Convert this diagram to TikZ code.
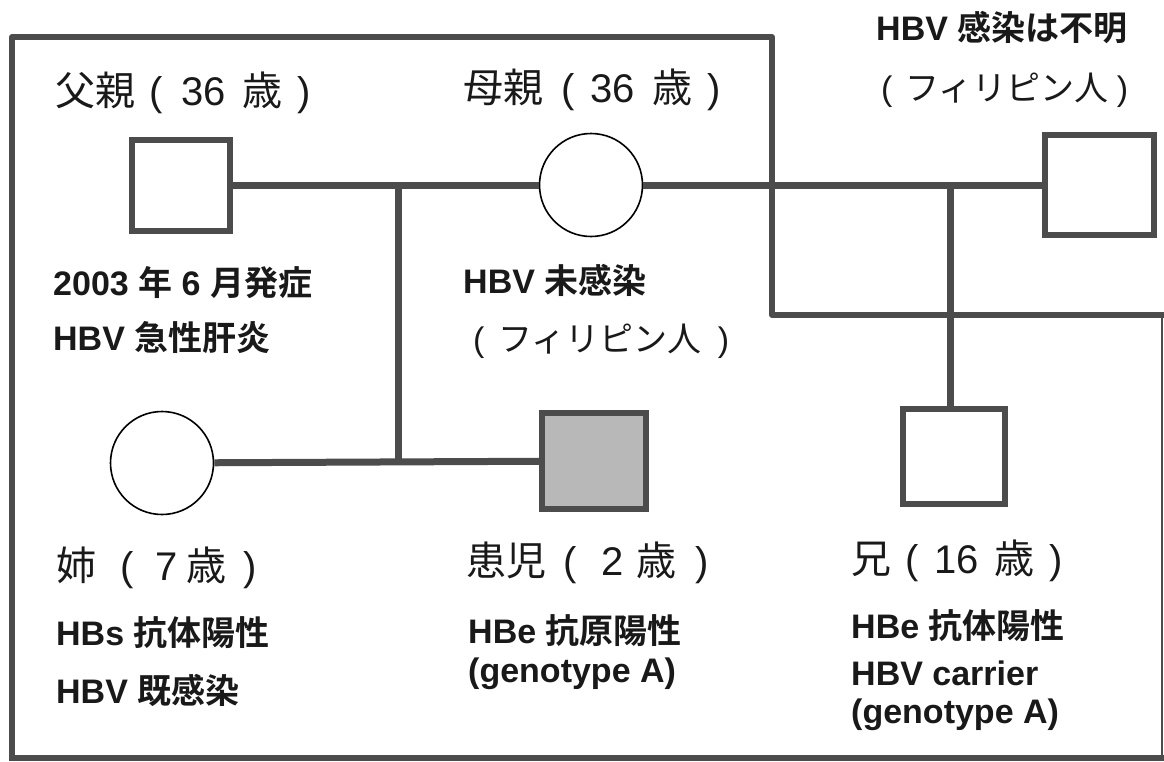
\documentclass[tikz,border=0pt]{standalone}
\usepackage{fontspec}
\setmainfont{Liberation Sans}
\newfontfamily\jpf{Noto Sans CJK JP}[BoldFont={Noto Sans CJK JP Bold}]
\newcommand{\hsp}[1]{\hspace{#1pt}}
\definecolor{lc}{gray}{0.30}
\definecolor{pf}{gray}{0.72}
\definecolor{tc}{gray}{0.10}
\tikzset{
  link/.style={draw=lc, line width=7pt},
  framed/.style={draw=lc, line width=6pt, line join=round},
  male/.style={rectangle, draw=lc, line width=6pt, fill=white, inner sep=0pt},
  female/.style={circle, draw=black, line width=1.6pt, fill=white, inner sep=0pt, minimum size=103pt},
  lbl/.style={anchor=base west, inner sep=0pt, text=tc, font=\fontsize{40}{48}\selectfont},
  info/.style={anchor=base west, inner sep=0pt, text=tc, font=\fontsize{34}{40}\selectfont\bfseries},
  nat/.style={anchor=base west, inner sep=0pt, text=tc, font=\fontsize{34}{40}\selectfont},
}
\begin{document}
\begin{tikzpicture}[x=1pt, y=-1pt]
\useasboundingbox (0,0) rectangle (1164,761);
% frame
\draw[framed] (12,758) -- (12,37) -- (772,37) -- (772,315) -- (1168,315);
\draw[framed] (9,758) -- (1168,758);
\draw[draw=lc, line width=2pt] (1162,315) -- (1162,758);
% people
\node[male, minimum width=98pt, minimum height=91pt] (father) at (181,185) {};
\node[female] (mother) at (591,185) {};
\node[male, minimum width=109pt, minimum height=100pt] (unk) at (1099.5,185) {};
\node[female] (sister) at (162,463) {};
\node[male, fill=pf, minimum width=104pt, minimum height=96pt] (patient) at (594,461) {};
\node[male, minimum width=102pt, minimum height=95pt] (brother) at (954,456.5) {};
% junctions
\coordinate (c1) at (398,185);
\coordinate (c2) at (398,462);
\coordinate (c3) at (950,185);
% connectors
\draw[link] (father) -- (mother);
\draw[link] (mother) -- (unk);
\draw[link] (c1) -- (c2);
\draw[link] (sister) -- (patient);
\draw[link] (c3) -- (c3 |- brother.north);
% labels
\node[lbl] (lf) at (55,105) {{\jpf 父親}\hsp{14}(\hsp{19}36\hsp{16}{\jpf 歳}\hsp{15})};
\node[lbl] (lm) at (463,102) {{\jpf 母親}\hsp{18}(\hsp{16}36\hsp{17}{\jpf 歳}\hsp{15})};
\node[lbl] (ls) at (56,580) {{\jpf 姉}\hsp{24}(\hsp{22}7\hsp{9}{\jpf 歳}\hsp{17})};
\node[lbl] (lp) at (466,575) {{\jpf 患児}\hsp{17}(\hsp{25}2\hsp{13}{\jpf 歳}\hsp{19})};
\node[lbl] (lb) at (851,573) {{\jpf 兄}\hsp{14}(\hsp{16}16\hsp{15}{\jpf 歳}\hsp{15})};
% info
\node[info] (f1) at (53,295) {2003 {\jpf 年} 6 {\jpf 月発症}};
\node[info] (f2) at (53,350) {HBV {\jpf 急性肝炎}};
\node[info] (m1) at (463,293) {HBV {\jpf 未感染}};
\node[nat] (m2) at (473,351) {(\hsp{14}{\jpf フィリピン人}\hsp{16})};
\node[info] (t1) at (876,40) {HBV {\jpf 感染は不明}};
\node[nat] (t2) at (881,100) {(\hsp{13}{\jpf フィリピン人}\hsp{8})};
\node[info] (s1) at (56,645) {HBs {\jpf 抗体陽性}};
\node[info] (s2) at (56,703) {HBV {\jpf 既感染}};
\node[info] (p1) at (468,643) {HBe {\jpf 抗原陽性}};
\node[info] (p2) at (468,682) {(genotype A)};
\node[info] (b1) at (851,638) {HBe {\jpf 抗体陽性}};
\node[info] (b2) at (851,685) {HBV carrier};
\node[info] (b3) at (851,723) {(genotype A)};
\end{tikzpicture}
\end{document}
